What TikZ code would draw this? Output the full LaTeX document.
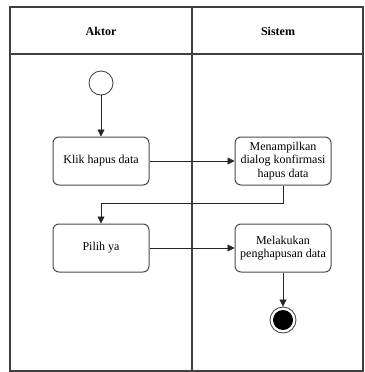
\documentclass[tikz,border=0pt]{standalone}
\usepackage{fontspec}
\setmainfont{Liberation Serif}
\usetikzlibrary{arrows.meta}
\begin{document}
\begin{tikzpicture}[x=1pt,y=-1pt,
  lane/.style={draw=black!75,line width=1.3pt},
  act/.style={draw=black!70,line width=1pt,rounded corners=6pt,minimum width=96pt,minimum height=48pt,align=center,font=\fontsize{12}{13.5}\selectfont,inner sep=2pt},
  flow/.style={draw=black!85,line width=0.8pt,-{Triangle[length=7pt,width=7pt]}},
  head/.style={font=\fontsize{12}{14}\selectfont\bfseries}]
\useasboundingbox (0,0) rectangle (364,372);
\fill[white] (0,0) rectangle (364,372);
% swimlanes
\draw[lane] (10,7) rectangle (363,371);
\draw[lane] (10,54) -- (363,54);
\draw[lane] (192,7) -- (192,371);
\node[head] (aktor) at (101,31) {Aktor};
\node[head] (sistem) at (278,31) {Sistem};
% start and end
\node[circle,draw=black!70,line width=0.9pt,minimum size=24pt,inner sep=0pt] (start) at (101,83) {};
\node[circle,draw=black!70,line width=0.9pt,minimum size=26pt,inner sep=0pt] (stop) at (283,320) {};
\fill[black] (stop.center) circle (10pt);
% activities
\node[act] (klik) at (101,161) {Klik hapus data};
\node[act] (dialog) at (283,161) {Menampilkan\\dialog konfirmasi\\hapus data};
\node[act] (pilih) at (101,248) {Pilih ya};
\node[act] (hapus) at (283,248) {Melakukan\\penghapusan data};
% flows
\draw[flow] (start) -- (klik);
\draw[flow] (klik) -- (dialog);
\draw[flow] (dialog.south) -- ++(0,18) -| (pilih.north);
\draw[flow] (pilih) -- (hapus);
\draw[flow] (hapus) -- (stop);
\end{tikzpicture}
\end{document}
